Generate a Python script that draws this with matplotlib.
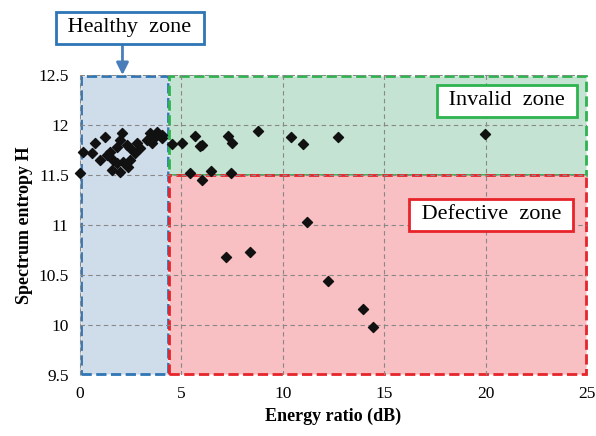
import matplotlib
matplotlib.use("Agg")
import matplotlib.pyplot as plt
from matplotlib.patches import Rectangle

plt.rcParams['font.family'] = ['Liberation Serif', 'DejaVu Serif']

# healthy cluster (energy ratio dB, spectrum entropy)
healthy_x = [0.0, 0.16, 0.59, 0.74, 0.99, 1.23, 1.33, 1.48, 1.58, 1.63, 1.82, 1.82,
             1.97, 1.97, 2.1, 2.12, 2.32, 2.37, 2.47, 2.47, 2.7, 2.8, 2.96, 3.3,
             3.45, 3.55, 3.7, 3.8, 4.03, 4.04]
healthy_y = [11.52, 11.73, 11.72, 11.82, 11.65, 11.88, 11.70, 11.73, 11.55, 11.65, 11.78, 11.62,
             11.53, 11.85, 11.92, 11.63, 11.80, 11.58, 11.77, 11.65, 11.72, 11.82, 11.77, 11.85,
             11.92, 11.82, 11.88, 11.93, 11.87, 11.90]

other_x = [4.52, 5.01, 5.67, 5.92, 6.0, 7.28, 7.5, 8.78, 5.42, 6.0, 6.44, 7.43,
           10.4, 11.0, 12.74, 19.97,
           7.18, 8.38, 11.18, 12.24, 13.94, 14.46]
other_y = [11.81, 11.82, 11.89, 11.79, 11.80, 11.89, 11.82, 11.94, 11.52, 11.45, 11.54, 11.52,
           11.88, 11.81, 11.88, 11.91,
           10.68, 10.73, 11.03, 10.44, 10.16, 9.98]

xticks = [0, 5, 10, 15, 20, 25]
yticks = [9.5, 10, 10.5, 11, 11.5, 12, 12.5]
healthy_limit = 4.35
entropy_limit = 11.5

fig = plt.figure(figsize=(5.96, 4.36), dpi=100)
ax = fig.add_axes([0.134, 0.14, 0.851, 0.688])
ax.set_xlim(0, 25)
ax.set_ylim(9.5, 12.5)

# zones
ax.add_patch(Rectangle((0.05, 9.51), healthy_limit - 0.05, 2.98, facecolor='#cfdcea',
                       edgecolor='#2e75b6', linestyle='--', linewidth=2, zorder=1, clip_on=False))
ax.add_patch(Rectangle((healthy_limit + 0.05, entropy_limit), 25 - healthy_limit - 0.1, 12.49 - entropy_limit,
                       facecolor='#c5e3d2', edgecolor='#2eb34f', linestyle='--', linewidth=2, zorder=1, clip_on=False))
ax.add_patch(Rectangle((healthy_limit + 0.05, 9.51), 25 - healthy_limit - 0.1, entropy_limit - 9.51,
                       facecolor='#f8c0c3', edgecolor='#e8232a', linestyle='--', linewidth=2, zorder=1.1, clip_on=False))

ax.set_xticks(xticks)
ax.set_yticks(yticks)
ax.set_xticklabels([str(t) for t in xticks])
ax.set_yticklabels(['9.5', '10', '10.5', '11', '11.5', '12', '12.5'])
ax.tick_params(length=0, labelsize=12.5, pad=8)
ax.grid(True, linestyle=(0, (4, 3)), color='#888888', linewidth=0.8)
ax.set_axisbelow(False)
for s in ['top', 'right', 'bottom']:
    ax.spines[s].set_visible(False)
ax.spines['left'].set_color('#bbbbbb')

ax.scatter(healthy_x, healthy_y, marker='D', s=26, color='#111111', zorder=4, clip_on=False)
ax.scatter(other_x, other_y, marker='D', s=26, color='#111111', zorder=4, clip_on=False)

ax.set_xlabel('Energy ratio (dB)', fontsize=13, fontweight='bold', labelpad=4)
ax.set_ylabel('Spectrum entropy H', fontsize=13, fontweight='bold', labelpad=4)

# labels
ax.annotate('', xy=(2.1, 12.5), xytext=(2.1, 12.81), annotation_clip=False,
            arrowprops=dict(arrowstyle='-|>', color='#4a7ebb', linewidth=2, mutation_scale=18,
                            shrinkA=0, shrinkB=0))
ax.text(2.45, 12.97, ' Healthy  zone ', ha='center', va='center', fontsize=16, zorder=5, clip_on=False,
        bbox=dict(boxstyle='square,pad=0.3', facecolor='white', edgecolor='#2e75b6', linewidth=2))
ax.text(21.06, 12.24, ' Invalid  zone ', ha='center', va='center', fontsize=16, zorder=5,
        bbox=dict(boxstyle='square,pad=0.3', facecolor='white', edgecolor='#2eb34f', linewidth=2))
ax.text(20.27, 11.1, ' Defective  zone ', ha='center', va='center', fontsize=16, zorder=5,
        bbox=dict(boxstyle='square,pad=0.3', facecolor='white', edgecolor='#e8232a', linewidth=2))

fig.savefig('out.png', dpi=100)
